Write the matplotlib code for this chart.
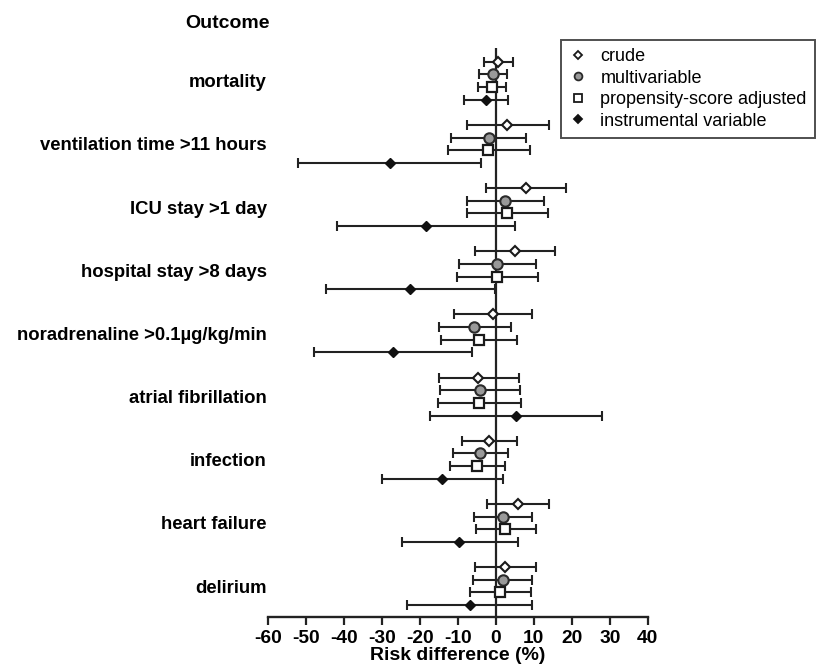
import numpy as np # numeric package
import matplotlib
matplotlib.use('Agg')
import matplotlib.pyplot as plt # package for plotting

plt.rcParams['font.family'] = ['Liberation Sans', 'DejaVu Sans']

# outcomes, top to bottom
outcomes = ["mortality", "ventilation time >11 hours", "ICU stay >1 day",
            "hospital stay >8 days", "noradrenaline >0.1µg/kg/min",
            "atrial fibrillation", "infection", "heart failure", "delirium"]

methods = ["crude", "multivariable", "propensity-score adjusted", "instrumental variable"]

# risk difference (%) and 95% CI for each method
crude = [0.6, 3.0, 7.8, 5.0, -0.9, -4.6, -1.7, 5.8, 2.5]
crude_lo = [-3.2, -7.7, -2.6, -5.4, -11.1, -15.0, -8.9, -2.4, -5.4]
crude_hi = [4.6, 14.1, 18.5, 15.5, 9.5, 6.1, 5.5, 13.9, 10.5]

multi = [-0.7, -1.9, 2.5, 0.3, -5.7, -4.3, -4.2, 1.8, 1.8]
multi_lo = [-4.4, -11.9, -7.6, -9.7, -15.1, -14.8, -11.3, -5.7, -6.0]
multi_hi = [3.0, 8.0, 12.6, 10.5, 4.0, 6.3, 3.1, 9.5, 9.6]

prop = [-1.0, -2.2, 3.0, 0.4, -4.5, -4.4, -4.9, 2.5, 1.2]
prop_lo = [-4.6, -12.7, -7.6, -10.3, -14.5, -15.3, -12.2, -5.2, -6.9]
prop_hi = [2.6, 8.9, 13.8, 11.1, 5.6, 6.5, 2.5, 10.5, 9.3]

iv = [-2.6, -27.9, -18.3, -22.7, -27.1, 5.3, -14.1, -9.6, -6.9]
iv_lo = [-8.5, -52.3, -41.8, -44.8, -48.0, -17.4, -30.0, -24.8, -23.5]
iv_hi = [3.2, -3.9, 5.1, -0.3, -6.2, 28.0, 1.9, 5.9, 9.6]

xticks = [-60, -50, -40, -30, -20, -10, 0, 10, 20, 30, 40]

series = [(crude, crude_lo, crude_hi), (multi, multi_lo, multi_hi),
          (prop, prop_lo, prop_hi), (iv, iv_lo, iv_hi)]
styles = [dict(marker='D', ms=5.0, mfc='white', mec='#1a1a1a', mew=1.5),
          dict(marker='o', ms=7.5, mfc='#999999', mec='#2a2a2a', mew=1.5),
          dict(marker='s', ms=7.0, mfc='white', mec='#1a1a1a', mew=1.6),
          dict(marker='D', ms=5.2, mfc='#111111', mec='#111111', mew=1.0)]

fig = plt.figure(figsize=(8.16, 6.68), dpi=100)
ax = fig.add_axes([0.3288, 0.0763, 0.7937 - 0.3288, 0.928 - 0.0763])

group = np.arange(len(outcomes)) * 5 # 4 rows per outcome + 1 gap
for k, (val, lo, hi) in enumerate(series): # loop over methods
    val = np.array(val)
    err = [val - np.array(lo), np.array(hi) - val]
    ax.errorbar(val, group + k, xerr=err, fmt='none', ecolor='#222222',
                elinewidth=1.5, capsize=3.5, capthick=1.5, zorder=2)
    ax.plot(val, group + k, linestyle='none', zorder=3, **styles[k])

ax.axvline(0, color='#222222', lw=1.6, zorder=1)

ax.set_xlim(-60, 40)
ax.set_ylim(43.95, -1.08)
ax.set_xticks(xticks)
ax.set_xticklabels([str(t) for t in xticks], fontsize=13.8, fontweight='bold')
ax.set_yticks(group + 1.5)
ax.set_yticklabels(outcomes, fontsize=13.3, fontweight='bold')
ax.tick_params(axis='y', length=0, pad=1)
ax.tick_params(axis='x', length=5.5, width=1.6, pad=4, color='#222222')
for s in ['top', 'right', 'left']:
    ax.spines[s].set_visible(False)
ax.spines['bottom'].set_linewidth(1.7)
ax.spines['bottom'].set_color('#222222')
ax.set_xlabel('Risk difference (%)', fontsize=14, fontweight='bold', labelpad=0)

fig.text(270 / 816, 1 - 23 / 668, 'Outcome', ha='right', va='center',
         fontsize=14, fontweight='bold')

# smaller legend markers
leg_handles = []
for k in range(4):
    st = dict(styles[k])
    st['ms'] = st['ms'] * 0.75
    st['mew'] = 1.3
    leg_handles.append(plt.Line2D([], [], linestyle='none', **st))
leg = fig.legend(leg_handles, methods, loc='upper right',
                 bbox_to_anchor=(815 / 816, 1 - 40 / 668), fontsize=13,
                 frameon=True, fancybox=False, edgecolor='#222222',
                 handlelength=1.0, handletextpad=0.75, labelspacing=0.25,
                 borderpad=0.45, borderaxespad=0)
leg.get_frame().set_linewidth(1.4)

plt.savefig('out.png', dpi=100)
